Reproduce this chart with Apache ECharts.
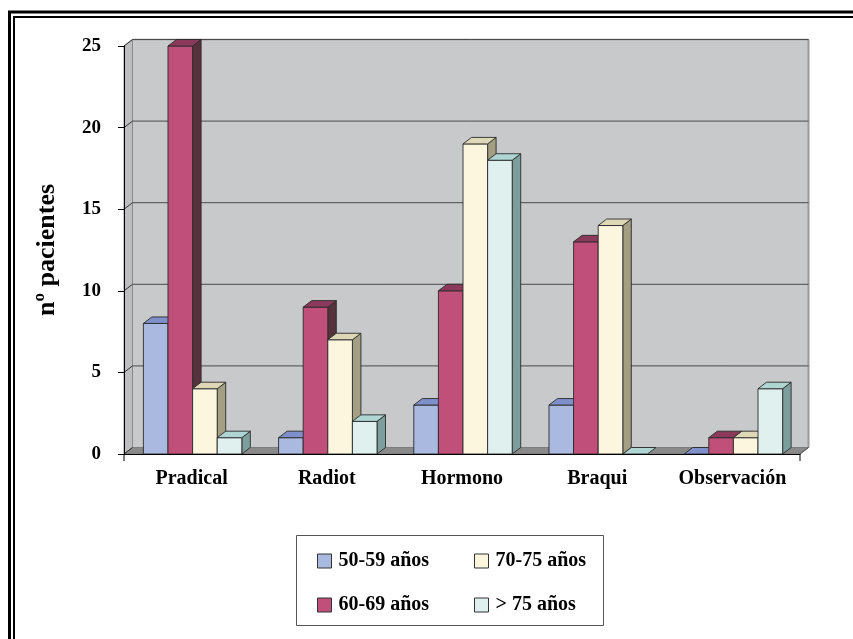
<!DOCTYPE html>
<html>
<head>
<meta charset="utf-8">
<script src="https://cdn.jsdelivr.net/npm/echarts@6/dist/echarts.min.js"></script>
<style>
  html, body { margin: 0; padding: 0; background: #ffffff; }
  #chart { width: 853px; height: 639px; }
</style>
</head>
<body>
<div id="chart"></div>
<script>
// Treatment categories and patient counts per age group
const categories = ['Pradical', 'Radiot', 'Hormono', 'Braqui', 'Observación'];
const ageGroups = ['50-59 años', '60-69 años', '70-75 años', '> 75 años'];
const s50_59 = [8, 1, 3, 3, 0];
const s60_69 = [25, 9, 10, 13, 1];
const s70_75 = [4, 7, 19, 14, 1];
const s75plus = [1, 2, 18, 0, 4];
const yTicks = [0, 5, 10, 15, 20, 25];

const seriesValues = [s50_59, s60_69, s70_75, s75plus];

// Face shading for each age group: front, top, side
const palettes = [
  { front: '#AAB9E0', top: '#7E8FC9', side: '#6474A8' },
  { front: '#C0507A', top: '#8C3A5B', side: '#56323C' },
  { front: '#FCF6DE', top: '#DFD8B7', side: '#A49E82' },
  { front: '#E0F0EF', top: '#B0D6D4', side: '#7C9E9C' }
];

// Depth offset of the pseudo-3D box
const DX = 8.5;
const DY = 6.5;
const SERIF = '"Liberation Serif", "Times New Roman", serif';

const chart = echarts.init(document.getElementById('chart'), null, { renderer: 'canvas' });

// Back wall, side wall and floor of the plot box
function renderWalls(params, api) {
  const cs = params.coordSys;
  const x = cs.x, y = cs.y, w = cs.width, h = cs.height;
  const yb = y + h;
  return {
    type: 'group',
    children: [
      { type: 'rect', shape: { x: x + DX, y: y - DY, width: w, height: h },
        style: { fill: '#C8C9CB', stroke: null } },
      { type: 'line', shape: { x1: x + DX, y1: y - DY, x2: x + w + DX, y2: y - DY },
        style: { stroke: '#8E8E90', lineWidth: 1.5 } },
      { type: 'line', shape: { x1: x + w + DX, y1: y - DY, x2: x + w + DX, y2: yb - DY },
        style: { stroke: '#9A9A9C', lineWidth: 2 } },
      { type: 'polygon', shape: { points: [[x, yb], [x, y], [x + DX, y - DY], [x + DX, yb - DY]] },
        style: { fill: '#BDBEC0', stroke: '#8A8A8A', lineWidth: 1 } },
      { type: 'polygon', shape: { points: [[x, yb], [x + DX, yb - DY], [x + w + DX, yb - DY], [x + w, yb]] },
        style: { fill: '#8A8A8A', stroke: '#6E6E6E', lineWidth: 0.8 } },
      // end ticks of the category axis
      { type: 'line', shape: { x1: x, y1: yb, x2: x, y2: yb + 7 }, style: { stroke: '#000', lineWidth: 1 } },
      { type: 'line', shape: { x1: x + w, y1: yb, x2: x + w, y2: yb + 7 }, style: { stroke: '#000', lineWidth: 1 } },
      { type: 'line', shape: { x1: x + w, y1: yb, x2: x + w + DX, y2: yb - DY }, style: { stroke: '#555', lineWidth: 1 } }
    ]
  };
}

// Gridlines on the back wall, joined to the value axis ticks
function renderGridline(params, api) {
  const cs = params.coordSys;
  const v = api.value(0);
  const yy = api.coord([0, v])[1];
  const children = [
    { type: 'line', shape: { x1: cs.x, y1: yy, x2: cs.x + DX, y2: yy - DY },
      style: { stroke: '#333', lineWidth: 1 } }
  ];
  if (v > 0) {
    children.push({ type: 'line',
      shape: { x1: cs.x + DX, y1: yy - DY, x2: cs.x + cs.width + DX, y2: yy - DY },
      style: { stroke: '#4A4A4A', lineWidth: 1 } });
  }
  return { type: 'group', children: children };
}

// Pseudo-3D bar: front face, top face and right side face
function makeBarRenderer(k) {
  const pal = palettes[k];
  return function (params, api) {
    const cat = api.value(0);
    const val = api.value(1);
    const base = api.coord([cat, 0]);
    const top = api.coord([cat, val]);
    const band = api.size([1, 0])[0];
    const w = band * 0.182;
    const x0 = base[0] - 2 * w + k * w + 1;
    const x1 = x0 + w;
    const yt = top[1];
    const yb = base[1];
    const stroke = { stroke: '#2A2A2A', lineWidth: 0.9 };
    const children = [];
    if (val > 0) {
      children.push({ type: 'polygon',
        shape: { points: [[x1, yt], [x1 + DX, yt - DY], [x1 + DX, yb - DY], [x1, yb]] },
        style: Object.assign({ fill: pal.side }, stroke) });
      children.push({ type: 'rect',
        shape: { x: x0, y: yt, width: w, height: yb - yt },
        style: Object.assign({ fill: pal.front }, stroke) });
    }
    children.push({ type: 'polygon',
      shape: { points: [[x0, yt], [x0 + DX, yt - DY], [x1 + DX, yt - DY], [x1, yt]] },
      style: Object.assign({ fill: pal.top }, stroke) });
    return { type: 'group', children: children };
  };
}

const series = [
  { type: 'custom', name: 'walls', silent: true, z: 1, renderItem: renderWalls, data: [0], legendHoverLink: false },
  { type: 'custom', name: 'gridlines', silent: true, z: 1.5, renderItem: renderGridline,
    data: yTicks.map(function (t) { return [t]; }), encode: { y: 0 } }
];
seriesValues.forEach(function (vals, k) {
  series.push({
    type: 'custom',
    name: ageGroups[k],
    z: 3,
    renderItem: makeBarRenderer(k),
    itemStyle: { color: palettes[k].front },
    encode: { x: 0, y: 1 },
    data: vals.map(function (v, i) { return [i, v]; })
  });
});

const legendText = { fontFamily: SERIF, fontWeight: 'bold', fontSize: 20, color: '#000', padding: [0, 0, 0, 2] };
const legendCommon = {
  orient: 'vertical',
  icon: 'rect',
  itemWidth: 14,
  itemHeight: 14,
  itemGap: 24,
  textStyle: legendText,
  itemStyle: { borderColor: '#333', borderWidth: 1 },
  selectedMode: false
};

chart.setOption({
  animation: false,
  backgroundColor: '#ffffff',
  grid: { left: 124, top: 46, right: 53, bottom: 185, containLabel: false },
  xAxis: {
    type: 'category',
    data: categories,
    z: 5,
    axisLine: { show: true, lineStyle: { color: '#000', width: 1 } },
    axisTick: { show: false },
    axisLabel: { interval: 0, fontFamily: SERIF, fontWeight: 'bold', fontSize: 20, color: '#000', margin: 15 },
    splitLine: { show: false }
  },
  yAxis: {
    type: 'value',
    min: 0,
    max: 25,
    interval: 5,
    z: 5,
    name: 'nº pacientes',
    nameLocation: 'middle',
    nameRotate: 90,
    nameGap: 64,
    nameTextStyle: { fontFamily: SERIF, fontWeight: 'bold', fontSize: 26, color: '#000' },
    axisLine: { show: true, lineStyle: { color: '#000', width: 1 } },
    axisTick: { show: true, length: 6, lineStyle: { color: '#000' } },
    axisLabel: { fontFamily: SERIF, fontWeight: 'bold', fontSize: 19, color: '#000', margin: 23 },
    splitLine: { show: false }
  },
  legend: [
    Object.assign({ left: 312, top: 546, data: [ageGroups[0], ageGroups[1]] }, legendCommon),
    Object.assign({ left: 469, top: 546, data: [ageGroups[2], ageGroups[3]] }, legendCommon)
  ],
  graphic: [
    // double frame around the figure
    { type: 'line', shape: { x1: 9.5, y1: 12, x2: 9.5, y2: 639 }, style: { stroke: '#000', lineWidth: 3 } },
    { type: 'line', shape: { x1: 14, y1: 17, x2: 14, y2: 639 }, style: { stroke: '#000', lineWidth: 2 } },
    { type: 'line', shape: { x1: 8, y1: 12, x2: 853, y2: 12 }, style: { stroke: '#000', lineWidth: 3 } },
    { type: 'line', shape: { x1: 13, y1: 17, x2: 853, y2: 17 }, style: { stroke: '#000', lineWidth: 2 } },
    // legend box
    { type: 'rect', z: 0, shape: { x: 296.5, y: 535.5, width: 307, height: 90 },
      style: { fill: '#fff', stroke: '#555', lineWidth: 1 } }
  ],
  series: series
});
</script>
</body>
</html>
